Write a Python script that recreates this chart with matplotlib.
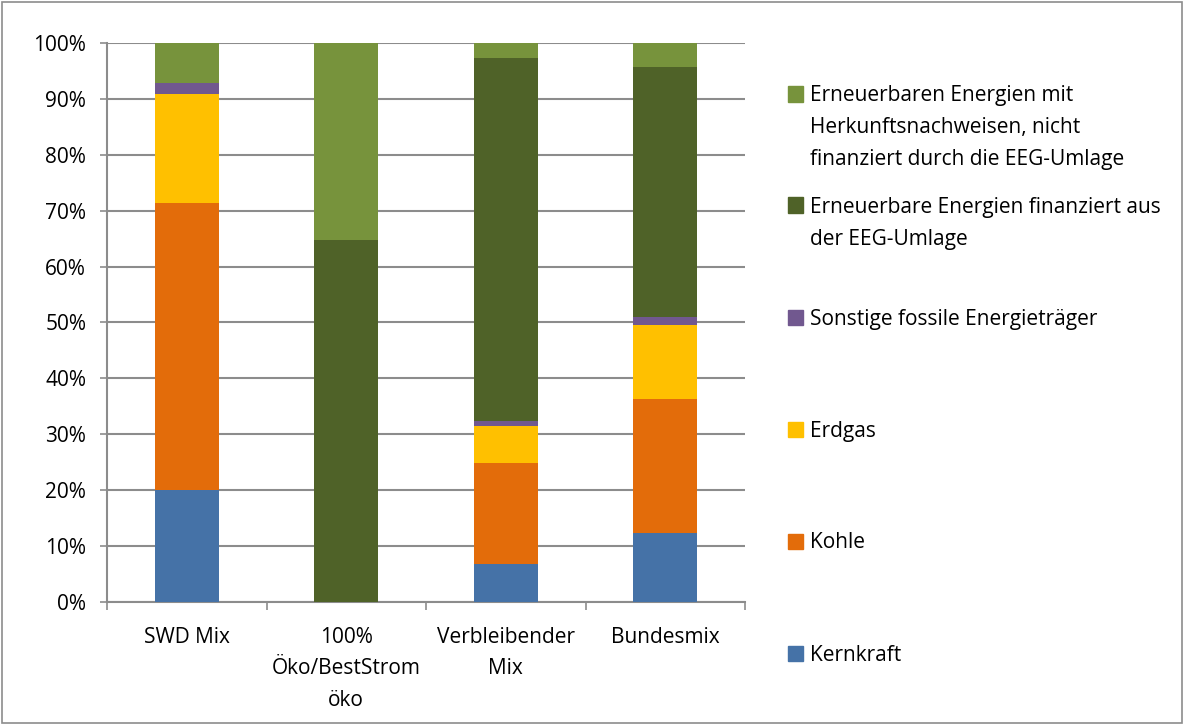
import numpy as np
import matplotlib.pyplot as plt
from matplotlib.patches import Rectangle

plt.rcParams['font.family'] = ['Open Sans', 'DejaVu Sans']

categories = ["SWD Mix", "100%\nÖko/BestStrom\nöko", "Verbleibender\nMix", "Bundesmix"]

# Anteile in % (von unten nach oben gestapelt)
kernkraft = [20.0, 0.0, 6.8, 12.3]
kohle = [51.4, 0.0, 18.0, 24.0]
erdgas = [19.5, 0.0, 6.7, 13.2]
sonstige = [2.0, 0.0, 0.8, 1.5]
ee_eeg = [0.0, 64.8, 65.1, 44.7]
ee_hkn = [7.1, 35.2, 2.6, 4.3]

series = [kernkraft, kohle, erdgas, sonstige, ee_eeg, ee_hkn]
names = ["Kernkraft",
         "Kohle",
         "Erdgas",
         "Sonstige fossile Energieträger",
         "Erneuerbare Energien finanziert aus\nder EEG-Umlage",
         "Erneuerbaren Energien mit\nHerkunftsnachweisen, nicht\nfinanziert durch die EEG-Umlage"]
colors = ['#4572A7', '#E36C0A', '#FFC000', '#71588F', '#4F6228', '#77933C']

W, H = 1184, 725
fig = plt.figure(figsize=(W / 100, H / 100), dpi=100)
ax = fig.add_axes([107 / W, 1 - 602 / H, 638 / W, 559 / H])

x = np.arange(len(categories))
bottom = np.zeros(len(categories))
for vals, c in zip(series, colors):
    ax.bar(x, vals, 0.40, bottom=bottom, color=c, edgecolor='none', zorder=3)
    bottom += np.array(vals)

ax.set_xlim(-0.5, 3.5)
ax.set_ylim(0, 100)
ax.set_yticks(np.arange(0, 101, 10))
ax.set_yticklabels([f"{v}%" for v in range(0, 101, 10)], fontsize=15)
ax.yaxis.grid(True, color='#8c8c8c', linewidth=1.5, zorder=0)
ax.tick_params(axis='y', length=5, width=1.2, color='#8c8c8c', pad=10)

# x-Achse: Beschriftungen in der Mitte, Striche an den Grenzen
ax.set_xticks(x)
ax.set_xticklabels(categories, fontsize=15, linespacing=1.65)
ax.tick_params(axis='x', length=0, pad=18)
ax.set_xticks(np.arange(-0.5, 4.0, 1.0), minor=True)
ax.tick_params(axis='x', which='minor', length=6, width=1.2, color='#8c8c8c', direction='out')

for s in ['top', 'right']:
    ax.spines[s].set_visible(False)
for s in ['left', 'bottom']:
    ax.spines[s].set_color('#8c8c8c')
    ax.spines[s].set_linewidth(1.5)

# Legende (manuell, gleichmaessig verteilt, von unten nach oben)
leg_y = [653.5, 541, 429.5, 317.5, 205, 94]
for i in range(len(names)):
    yc = leg_y[i]
    fig.patches.append(Rectangle((788 / W, 1 - (yc + 7.5) / H), 15 / W, 15 / H,
                                 transform=fig.transFigure, color=colors[i], figure=fig))
    for k, line in enumerate(names[i].split("\n")):
        base = yc + 7.5 + k * 32
        fig.text(810 / W, 1 - base / H, line, fontsize=15, va='baseline', ha='left')

# Rahmen um die Grafik
fig.patches.append(Rectangle((0.002, 0.003), 0.996, 0.994, transform=fig.transFigure,
                             fill=False, edgecolor='#8c8c8c', linewidth=1.2, figure=fig))

plt.savefig('out.png', dpi=100)
